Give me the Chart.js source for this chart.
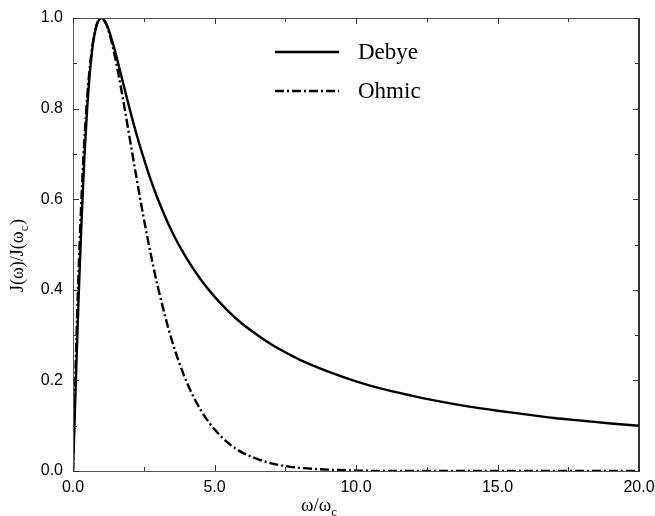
<!DOCTYPE html>
<html>
<head>
<meta charset="utf-8">
<script src="https://cdn.jsdelivr.net/npm/chart.js@4"></script>
<style>
  html, body { margin: 0; padding: 0; background: #fff; }
  #wrap { width: 655px; height: 516px; }
</style>
</head>
<body>
<div id="wrap"><canvas id="chart" width="655" height="516"></canvas></div>
<script>
// values
const xValues = [0, 0.1, 0.2, 0.3, 0.4, 0.5, 0.6, 0.7, 0.8, 0.9, 1.0, 1.2, 1.4, 1.6, 1.8, 2.0,
  2.25, 2.5, 2.75, 3, 3.5, 4, 4.5, 5, 5.5, 6, 6.5, 7, 7.5, 8, 9, 10, 11, 12, 13, 14, 15, 16, 17, 18, 19, 20];
const debyeValues = [0, 0.198, 0.385, 0.550, 0.690, 0.800, 0.882, 0.940, 0.976, 0.994, 1.000, 0.984,
  0.946, 0.899, 0.849, 0.800, 0.742, 0.690, 0.642, 0.600, 0.528, 0.471, 0.424, 0.385, 0.352, 0.324,
  0.301, 0.280, 0.262, 0.246, 0.220, 0.198, 0.180, 0.166, 0.153, 0.142, 0.133, 0.125, 0.117, 0.111, 0.105, 0.100];
const ohmicValues = [0, 0.246, 0.445, 0.604, 0.729, 0.824, 0.895, 0.945, 0.977, 0.995, 1.000, 0.982,
  0.938, 0.878, 0.809, 0.736, 0.645, 0.558, 0.478, 0.406, 0.287, 0.199, 0.136, 0.092, 0.061, 0.040,
  0.027, 0.017, 0.011, 0.007, 0.003, 0.001, 0, 0, 0, 0, 0, 0, 0, 0, 0, 0];
const seriesNames = ["Debye", "Ohmic"];
const xMajorTicks = [0, 5, 10, 15, 20];
const xMinorTicks = [2.5, 7.5, 12.5, 17.5];
const yMajorTicks = [0, 0.2, 0.4, 0.6, 0.8, 1.0];
const yMinorTicks = [0.1, 0.3, 0.5, 0.7, 0.9];

const SERIF = "'Liberation Serif', 'Times New Roman', serif";
const SANS = "'Liberation Sans', Arial, sans-serif";

function toPoints(ys) {
  return xValues.map((x, i) => ({ x: x, y: ys[i] }));
}

// frame, inward ticks, axis titles and legend
const decorPlugin = {
  id: "decor",
  afterDraw(chart) {
    const ctx = chart.ctx;
    const a = chart.chartArea;
    const xs = chart.scales.x, ys = chart.scales.y;
    ctx.save();

    // box
    ctx.lineWidth = 1;
    ctx.strokeStyle = "#555";
    ctx.beginPath();
    ctx.moveTo(a.left + 0.5, a.top + 0.5);
    ctx.lineTo(a.left + 0.5, a.bottom + 0.5);
    ctx.lineTo(a.right, a.bottom + 0.5);
    ctx.moveTo(a.left, a.top + 0.5);
    ctx.lineTo(a.right, a.top + 0.5);
    ctx.stroke();
    ctx.lineWidth = 1.6;
    ctx.strokeStyle = "#000";
    ctx.beginPath();
    ctx.moveTo(a.right, a.top);
    ctx.lineTo(a.right, a.bottom + 1);
    ctx.stroke();

    // ticks
    ctx.lineWidth = 1;
    ctx.strokeStyle = "#333";
    ctx.beginPath();
    const xt = (v, len) => {
      const px = Math.round(xs.getPixelForValue(v)) + 0.5;
      ctx.moveTo(px, a.bottom); ctx.lineTo(px, a.bottom - len);
      ctx.moveTo(px, a.top); ctx.lineTo(px, a.top + len);
    };
    const yt = (v, len) => {
      const py = Math.round(ys.getPixelForValue(v)) + 0.5;
      ctx.moveTo(a.left, py); ctx.lineTo(a.left + len, py);
      ctx.moveTo(a.right, py); ctx.lineTo(a.right - len, py);
    };
    xMajorTicks.forEach(v => xt(v, 6));
    xMinorTicks.forEach(v => xt(v, 4));
    yMajorTicks.forEach(v => yt(v, 6));
    yMinorTicks.forEach(v => yt(v, 4));
    ctx.stroke();

    // x title: ω/ω_c
    ctx.fillStyle = "#000";
    ctx.textBaseline = "alphabetic";
    ctx.textAlign = "left";
    ctx.font = "19px " + SERIF;
    const xTitle = "\u03c9/\u03c9";
    const tx = 301, ty = 511;
    ctx.fillText(xTitle, tx, ty);
    const w1 = ctx.measureText(xTitle).width;
    ctx.font = "13px " + SERIF;
    ctx.fillText("c", tx + w1, ty + 5);

    // y title: J(ω)/J(ω_c), rotated
    ctx.save();
    ctx.translate(23, 292);
    ctx.rotate(-Math.PI / 2);
    ctx.font = "18px " + SERIF;
    const p1 = "J(\u03c9)/J(\u03c9";
    ctx.fillText(p1, 0, 0);
    let w = ctx.measureText(p1).width;
    ctx.font = "12px " + SERIF;
    ctx.fillText("c", w, 5);
    w += ctx.measureText("c").width;
    ctx.font = "18px " + SERIF;
    ctx.fillText(")", w + 1, 0);
    ctx.restore();

    // legend
    const rows = [52, 91];
    chart.data.datasets.forEach((ds, i) => {
      ctx.save();
      ctx.strokeStyle = ds.borderColor;
      ctx.lineWidth = ds.borderWidth;
      ctx.setLineDash(ds.borderDash || []);
      ctx.beginPath();
      ctx.moveTo(275, rows[i]);
      ctx.lineTo(339, rows[i]);
      ctx.stroke();
      ctx.restore();
      ctx.font = "23px " + SERIF;
      ctx.textBaseline = "middle";
      ctx.fillText(ds.label, 358, rows[i] + 1);
    });

    ctx.restore();
  }
};

new Chart(document.getElementById("chart"), {
  type: "line",
  data: {
    datasets: [
      {
        label: seriesNames[0],
        data: toPoints(debyeValues),
        borderColor: "#000",
        borderWidth: 2.4,
        pointRadius: 0,
        cubicInterpolationMode: "monotone",
        fill: false
      },
      {
        label: seriesNames[1],
        data: toPoints(ohmicValues),
        borderColor: "#000",
        borderWidth: 2.4,
        borderDash: [9, 3, 2, 3],
        pointRadius: 0,
        cubicInterpolationMode: "monotone",
        fill: false
      }
    ]
  },
  options: {
    responsive: false,
    animation: false,
    layout: { padding: { top: 18, right: 16, left: 0, bottom: 0 } },
    plugins: {
      legend: { display: false },
      tooltip: { enabled: false }
    },
    scales: {
      x: {
        type: "linear",
        min: 0,
        max: 20,
        afterFit: s => { s.height = 45; s.paddingLeft = 0; s.paddingRight = 0; },
        afterBuildTicks: s => { s.ticks = xMajorTicks.map(v => ({ value: v })); },
        ticks: {
          callback: v => Number(v).toFixed(1),
          color: "#000",
          padding: 7,
          maxRotation: 0,
          font: { family: SANS, size: 16 }
        },
        grid: { drawOnChartArea: false, drawTicks: false },
        border: { display: false }
      },
      y: {
        min: 0,
        max: 1,
        afterFit: s => { s.width = 73; s.paddingTop = 0; s.paddingBottom = 0; },
        afterBuildTicks: s => { s.ticks = yMajorTicks.map(v => ({ value: v })); },
        ticks: {
          callback: v => Number(v).toFixed(1),
          color: "#000",
          padding: 10,
          font: { family: SANS, size: 16 }
        },
        grid: { drawOnChartArea: false, drawTicks: false },
        border: { display: false }
      }
    }
  },
  plugins: [decorPlugin]
});
</script>
</body>
</html>
